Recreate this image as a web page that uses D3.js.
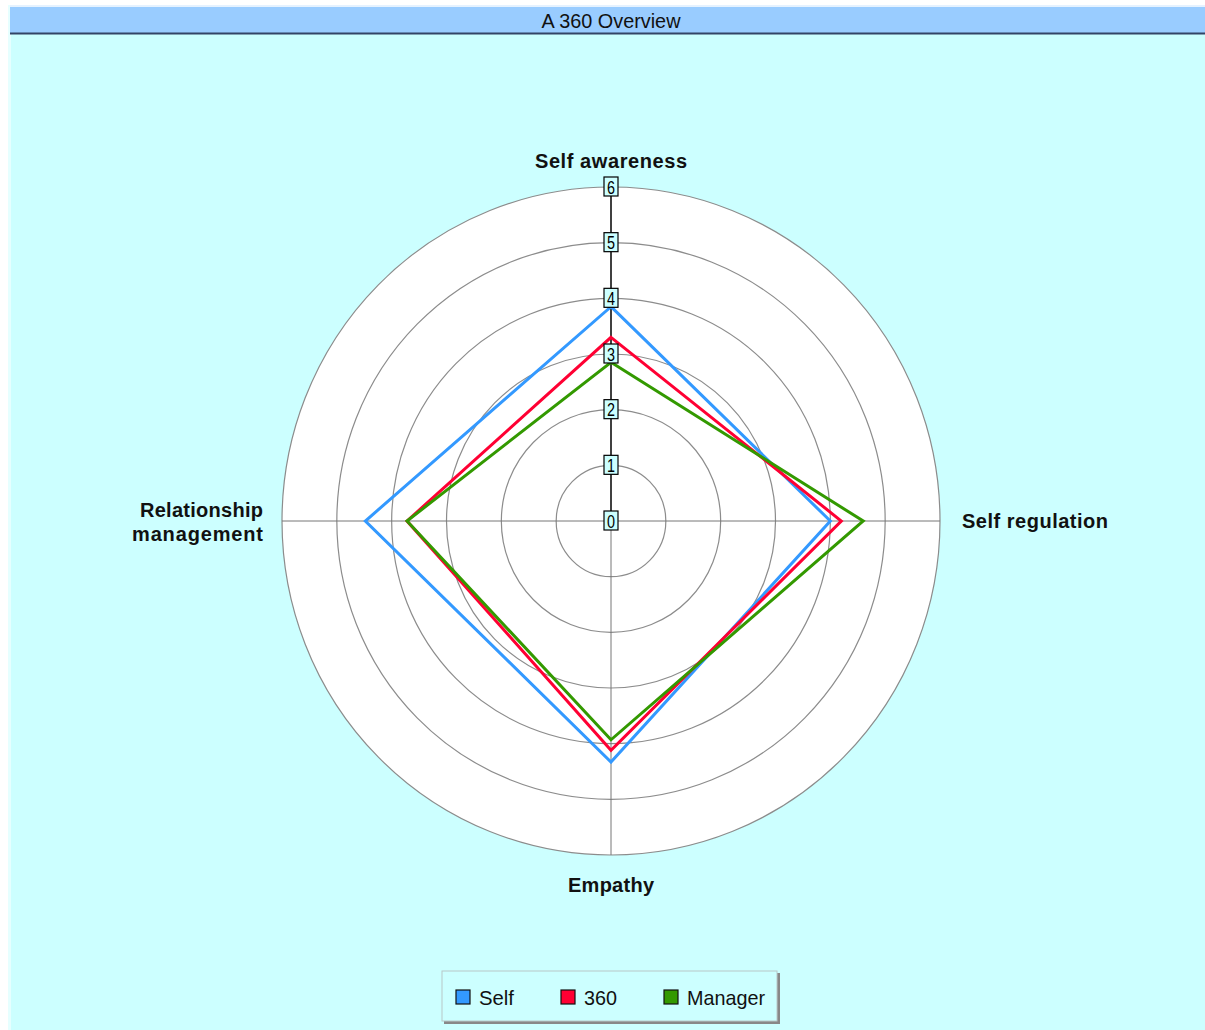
<!DOCTYPE html>
<html>
<head>
<meta charset="utf-8">
<script src="https://cdn.jsdelivr.net/npm/d3@7"></script>
<style>
	body { margin: 0; background: #fff; }
	svg { display: block; }
</style>
</head>
<body>
<svg id="chart" width="1205" height="1030"></svg>
<script>
const CATEGORIES = ['Self awareness', 'Self regulation', 'Empathy', 'Relationship management'];
const SERIES = ['Self', '360', 'Manager'];
const SELF = [3.85, 4.0, 4.33, 4.48];
const THREE_SIXTY = [3.3, 4.2, 4.12, 3.72];
const MANAGER = [2.85, 4.6, 3.93, 3.72];
const TICKS = [0, 1, 2, 3, 4, 5, 6];
const COLORS = ['#3399ff', '#ff0033', '#339900'];

const W = 1205;
const H = 1030;
const CX = 611;
const CY = 521;
const RX = 329;
const RY = 334;
const NARROW = '"Liberation Sans Narrow", "Arial Narrow", "Liberation Sans", sans-serif';
const BOLD = '"Liberation Sans", Arial, sans-serif';

const svg = d3.select('#chart');

// frame
svg.append('rect')
	.attr('x', 10).attr('y', 8).attr('width', W - 10).attr('height', H - 8)
	.attr('fill', '#ccffff');
svg.append('rect')
	.attr('x', 8).attr('y', 5).attr('width', 3).attr('height', H - 5)
	.attr('fill', '#e6ffff');

// title bar
svg.append('rect')
	.attr('x', 10).attr('y', 5).attr('width', W - 10).attr('height', 29)
	.attr('fill', '#99ccff');
svg.append('line')
	.attr('x1', 10).attr('x2', W).attr('y1', 6).attr('y2', 6)
	.attr('stroke', '#ffffff').attr('stroke-width', 1.5);
svg.append('line')
	.attr('x1', 10).attr('x2', W).attr('y1', 33.5).attr('y2', 33.5)
	.attr('stroke', '#334466').attr('stroke-width', 2);
svg.append('text')
	.attr('x', CX).attr('y', 28)
	.attr('text-anchor', 'middle')
	.attr('textLength', 139)
	.attr('lengthAdjust', 'spacingAndGlyphs')
	.style('font-family', NARROW)
	.style('font-size', '20px')
	.attr('fill', '#111')
	.text('A 360 Overview');

const rScale = d3.scaleLinear().domain([0, 6]).range([0, 1]);
const angle = d3.scalePoint().domain(d3.range(CATEGORIES.length)).range([0, 2 * Math.PI * 3 / 4]);

function pt(i, v) {
	const a = angle(i);
	return [CX + Math.sin(a) * rScale(v) * RX, CY - Math.cos(a) * rScale(v) * RY];
}

// plot disc
svg.append('ellipse')
	.attr('cx', CX).attr('cy', CY).attr('rx', RX).attr('ry', RY)
	.attr('fill', '#ffffff');

// rings
svg.selectAll('.ring')
	.data(TICKS.filter(d => d > 0))
	.enter()
	.append('ellipse')
	.attr('class', 'ring')
	.attr('cx', CX).attr('cy', CY)
	.attr('rx', d => rScale(d) * RX)
	.attr('ry', d => rScale(d) * RY)
	.attr('fill', 'none')
	.attr('stroke', '#8c8c8c')
	.attr('stroke-width', 1.2);

// spokes
svg.selectAll('.spoke')
	.data(d3.range(CATEGORIES.length))
	.enter()
	.append('line')
	.attr('x1', CX).attr('y1', CY)
	.attr('x2', i => pt(i, 6)[0])
	.attr('y2', i => pt(i, 6)[1])
	.attr('stroke', i => (i === 0 ? '#000' : '#777'))
	.attr('stroke-width', i => (i === 0 ? 1.5 : 1));

// series
const seriesData = [SELF, THREE_SIXTY, MANAGER];
const line = d3.line().curve(d3.curveLinearClosed);
svg.selectAll('.series')
	.data(seriesData)
	.enter()
	.append('path')
	.attr('d', vals => line(vals.map((v, i) => pt(i, v))))
	.attr('fill', 'none')
	.attr('stroke', (d, i) => COLORS[i])
	.attr('stroke-width', 3)
	.attr('stroke-linejoin', 'miter');

// tick boxes
const $tick = svg.selectAll('.tick')
	.data(TICKS)
	.enter()
	.append('g')
	.attr('transform', d => `translate(${CX},${pt(0, d)[1]})`);
$tick.append('rect')
	.attr('x', -7).attr('y', -10).attr('width', 14).attr('height', 19)
	.attr('fill', '#ccffff')
	.attr('stroke', '#000').attr('stroke-width', 1.2);
$tick.append('text')
	.attr('y', 6)
	.attr('text-anchor', 'middle')
	.attr('transform', 'scale(0.9,1.1)')
	.style('font-family', NARROW)
	.style('font-size', '16px')
	.text(d => d);

// category labels
const labelStyle = sel => sel
	.style('font-family', BOLD)
	.style('font-weight', 'bold')
	.style('font-size', '20px')
	.attr('lengthAdjust', 'spacing')
	.attr('fill', '#111');

svg.append('text').call(labelStyle)
	.attr('x', CX).attr('y', 168).attr('text-anchor', 'middle')
	.attr('textLength', 152)
	.text(CATEGORIES[0]);
svg.append('text').call(labelStyle)
	.attr('x', 962).attr('y', 528).attr('text-anchor', 'start')
	.attr('textLength', 146)
	.text(CATEGORIES[1]);
svg.append('text').call(labelStyle)
	.attr('x', CX).attr('y', 892).attr('text-anchor', 'middle')
	.attr('textLength', 86)
	.text(CATEGORIES[2]);
const relWords = CATEGORIES[3].split(' ');
const relLen = [123, 131];
svg.selectAll('.rel')
	.data(relWords)
	.enter()
	.append('text').call(labelStyle)
	.attr('text-anchor', 'end')
	.attr('x', 263)
	.attr('y', (d, i) => 517 + i * 24)
	.attr('textLength', (d, i) => relLen[i])
	.text(d => d);

// legend
const $legend = svg.append('g').attr('transform', 'translate(442,971)');
$legend.append('rect')
	.attr('x', 2).attr('y', 2).attr('width', 336).attr('height', 51)
	.attr('fill', '#888');
$legend.append('rect')
	.attr('width', 335).attr('height', 50)
	.attr('fill', '#ccffff')
	.attr('stroke', '#b8c8c8');
const legendX = [14, 119, 222];
const legendLen = [35, 33, 78];
const $item = $legend.selectAll('.item')
	.data(SERIES)
	.enter()
	.append('g')
	.attr('transform', (d, i) => `translate(${legendX[i]},19)`);
$item.append('rect')
	.attr('width', 14).attr('height', 14)
	.attr('fill', (d, i) => COLORS[i])
	.attr('stroke', '#111').attr('stroke-width', 1.2);
$item.append('text')
	.attr('x', 23).attr('y', 15)
	.attr('textLength', (d, i) => legendLen[i])
	.attr('lengthAdjust', 'spacingAndGlyphs')
	.style('font-family', NARROW)
	.style('font-size', '21px')
	.attr('fill', '#111')
	.text(d => d);
</script>
</body>
</html>
